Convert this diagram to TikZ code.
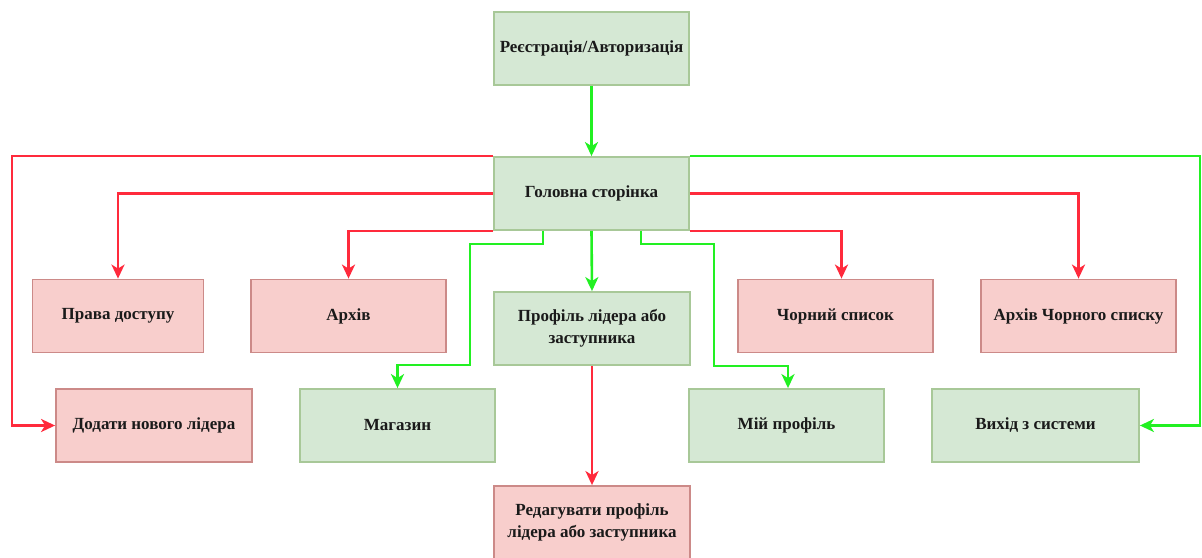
\documentclass[tikz,border=0pt]{standalone}
\usepackage{fontspec}
\setmainfont{Liberation Serif}
\usetikzlibrary{arrows.meta}
\definecolor{gfill}{HTML}{D5E8D4}
\definecolor{gdraw}{HTML}{A8C898}
\definecolor{rfill}{HTML}{F8CECC}
\definecolor{rdraw}{HTML}{CC8A88}
\definecolor{gline}{HTML}{22F022}
\definecolor{rline}{HTML}{FF2A3C}
\definecolor{txt}{HTML}{1A1A1A}
\tikzset{
  box/.style={rectangle, minimum height=73pt, inner sep=2pt, align=center,
    font=\fontsize{17}{22}\selectfont\bfseries, text=txt, line width=1.8pt},
  gbox/.style={box, fill=gfill, draw=gdraw},
  rbox/.style={box, fill=rfill, draw=rdraw},
  link/.style={line width=2.6pt, -{Stealth[length=14pt,width=13pt,inset=4pt]}},
  glink/.style={link, draw=gline, color=gline},
  rlink/.style={link, draw=rline, color=rline}
}
\begin{document}
\begin{tikzpicture}[x=1pt,y=-1pt]
\useasboundingbox (0,0) rectangle (1202,557);
\fill[white] (0,0) rectangle (1202,557);

\node[gbox, minimum width=195pt] (reg) at (591.5,48.5) {Реєстрація/Авторизація};
\node[gbox, minimum width=195pt] (main) at (591.5,193.5) {Головна сторінка};
\node[rbox, minimum width=171pt] (prava) at (118,316) {Права доступу};
\node[rbox, minimum width=195pt] (arkhiv) at (348.5,316) {Архів};
\node[gbox, minimum width=196pt] (profil) at (592,328.5) {Профіль лідера або\\заступника};
\node[rbox, minimum width=195pt] (chorny) at (835.5,316) {Чорний список};
\node[rbox, minimum width=195pt] (arkhivcs) at (1078.5,316) {Архів Чорного списку};
\node[rbox, minimum width=196pt] (dodaty) at (154,425.5) {Додати нового лідера};
\node[gbox, minimum width=195pt] (magazyn) at (397.5,425.5) {Магазин};
\node[gbox, minimum width=195pt] (miy) at (786.5,425.5) {Мій профіль};
\node[gbox, minimum width=207pt] (vykhid) at (1035.5,425.5) {Вихід з системи};
\node[rbox, minimum width=196pt] (redag) at (592,522.5) {Редагувати профіль\\лідера або заступника};

\coordinate (lc) at (12,158);
\coordinate (rc) at (1200,158);

\draw[glink] (reg.south) -- (main.north);
\draw[rlink] (main.north west) -- (main.north west -| lc) |- (dodaty.west);
\draw[glink] (main.north east) -- (main.north east -| rc) |- (vykhid.east);
\draw[rlink] (main.west) -| (prava.north);
\draw[rlink] (main.south west) -| (arkhiv.north);
\draw[rlink] (main.south east) -| ([xshift=6pt]chorny.north);
\draw[rlink] (main.east) -| (arkhivcs.north);
\draw[glink] ([xshift=-48.5pt]main.south) -- ++(0,13) -- ++(-73,0) -- ++(0,121) -| (magazyn.north);
\draw[glink] ([xshift=49.5pt]main.south) -- ++(0,13) -- ++(73,0) -- ++(0,122) -| ([xshift=1.5pt]miy.north);
\draw[glink] (main.south) -- (profil.north);
\draw[rlink] (profil.south) -- (redag.north);
\end{tikzpicture}
\end{document}
